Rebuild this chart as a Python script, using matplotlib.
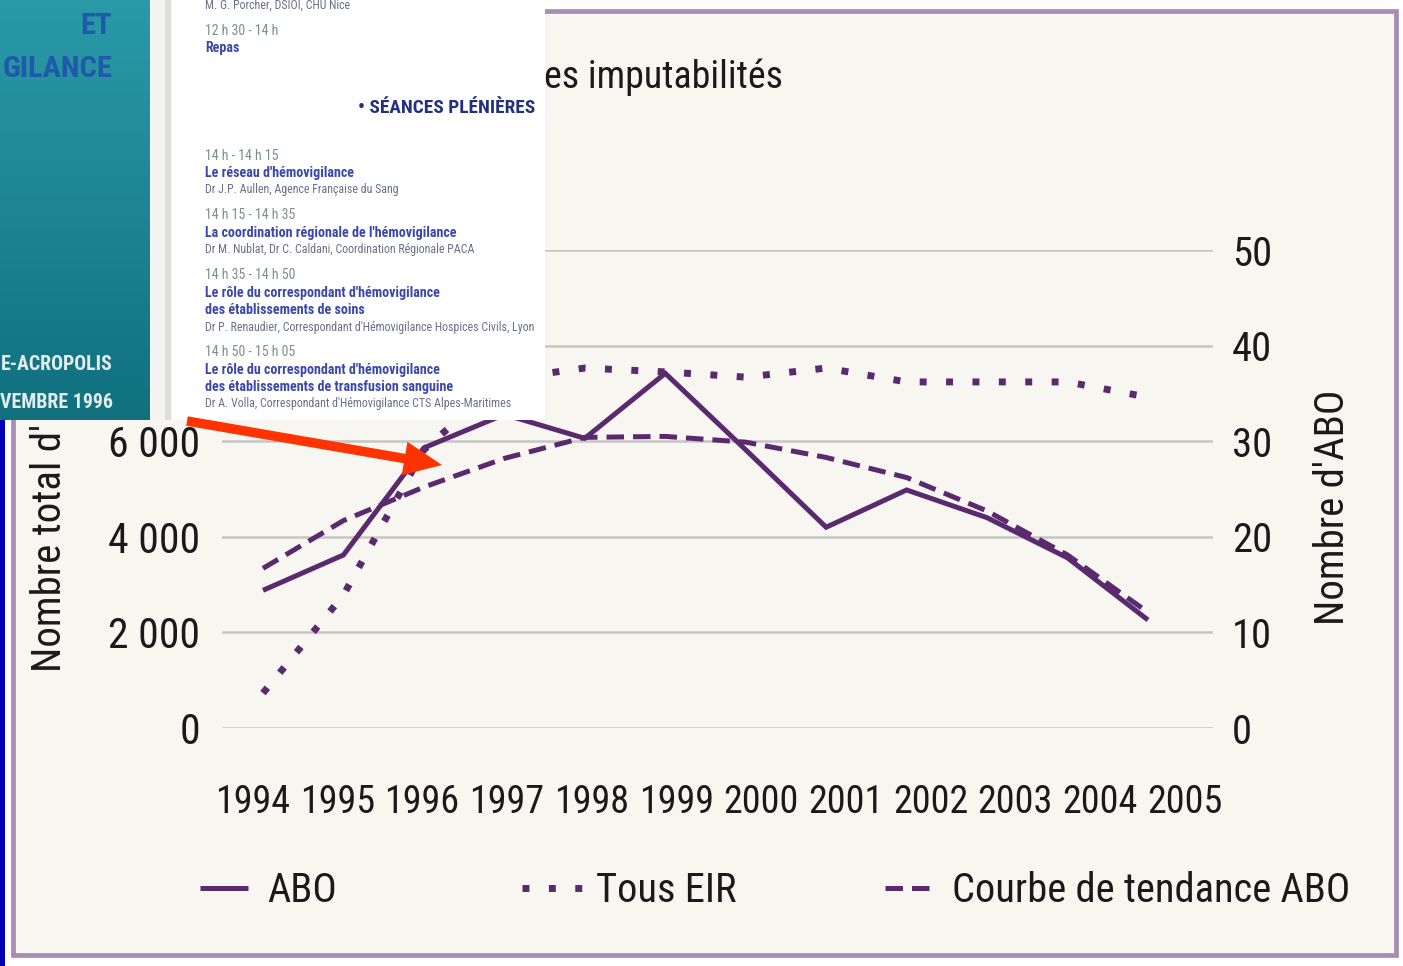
import numpy as np
import matplotlib
matplotlib.use('Agg')
import matplotlib.pyplot as plt
from matplotlib import font_manager as fm
from matplotlib.patches import Rectangle, FancyArrow

# ---------------- data ----------------
years = ['1994', '1995', '1996', '1997', '1998', '1999', '2000', '2001', '2002', '2003', '2004', '2005']
abo = [14.4, 18.1, 29.3, 32.8, 30.3, 37.1, 29.1, 21.0, 24.9, 22.0, 17.8, 11.3]
tous_eir = [730, 2780, 5820, 7300, 7530, 7450, 7340, 7530, 7240, 7240, 7240, 6920]
tendance_abo = [16.7, 21.7, 25.2, 28.2, 30.4, 30.5, 29.9, 28.3, 26.2, 22.7, 18.1, 12.1]
left_ticks = [0, 2000, 4000, 6000, 8000, 10000]
left_labels = ['0', '2 000', '4 000', '6 000', '8 000', '10 000']
right_ticks = [0, 10, 20, 30, 40, 50]
right_labels = ['0', '10', '20', '30', '40', '50']
legend_labels = ['ABO', 'Tous EIR', 'Courbe de tendance ABO']
# visible parts only (the rest is hidden behind the pasted brochure)
title_text = "es imputabilités"
ylabel_left = "Nombre total d'"
ylabel_right = "Nombre d'ABO"


def find_narrow():
    for fam in ['Liberation Sans Narrow', 'Roboto Condensed', 'Arial Narrow',
                'Open Sans Condensed', 'Nimbus Sans Narrow']:
        try:
            fm.findfont(fm.FontProperties(family=fam), fallback_to_default=False)
            return fam, 'normal'
        except Exception:
            pass
    for fam in ['Roboto', 'Open Sans', 'DejaVu Sans']:
        try:
            p = fm.findfont(fm.FontProperties(family=fam, stretch='condensed'),
                            fallback_to_default=False)
            if 'ondensed' in p:
                return fam, 'condensed'
        except Exception:
            pass
    return 'DejaVu Sans', 'normal'


NF, NST = find_narrow()

W, H = 1403, 966
fig = plt.figure(figsize=(W / 100, H / 100), dpi=100)
fig.patch.set_facecolor('white')
R = fig.canvas.get_renderer()


def fit_size(s, target, weight='normal', base=20.0):
    t = fig.text(0, 0, s, fontsize=base, family=NF, fontstretch=NST, weight=weight)
    w = t.get_window_extent(R).width
    t.remove()
    return base * target / w


def spacing_for(size, gap_px, weight='normal'):
    fp = fm.FontProperties(family=NF, stretch=NST, weight=weight, size=size)
    w, h, d = R.get_text_width_height_descent('lp', fp, ismath=False)
    return gap_px / (h - d)


def fa(x0, y0, x1, y1):
    return [x0 / W, 1 - y1 / H, (x1 - x0) / W, (y1 - y0) / H]


TXT = '#1a1a1a'
C = '#5B2A6E'
S_x = fit_size('1994', 75)
S_yl = fit_size('6 000', 92)
S_yr = fit_size('50', 40)
S_leg = fit_size('Courbe de tendance ABO', 398)
S_title = fit_size('es imputabilités', 238)
S_lab = fit_size("Nombre d'ABO", 235)
TK = dict(family=NF, fontstretch=NST, color=TXT)

# ---------------- background / panel ----------------
bg = fig.add_axes([0, 0, 1, 1], zorder=0)
bg.set_xlim(0, W)
bg.set_ylim(H, 0)
bg.axis('off')
bg.add_patch(Rectangle((0, 0), 5, H, color='#0000B8', lw=0))
bg.add_patch(Rectangle((13, 11), 1382.5, 943.5, facecolor='#F7F6F1',
                       edgecolor='#A98CB3', lw=3.4))
bg.text(783, 88, title_text, ha='right', va='baseline', fontsize=S_title, **TK)
bg.text(50, 672, ylabel_left, rotation=90, ha='center', va='bottom',
        fontsize=S_lab, **TK)
bg.text(1332, 507, ylabel_right, rotation=90, ha='center', va='center',
        fontsize=S_lab, **TK)

# ---------------- main chart ----------------
ax = fig.add_axes(fa(222, 250, 1213, 728), zorder=1)
ax.patch.set_alpha(0)
for s in ax.spines.values():
    s.set_visible(False)
x = np.arange(len(years))
ax.set_xlim(-(263 - 222) / 80.45, (1213 - 263) / 80.45)
ax.set_ylim(0, 10000)
ax.set_yticks(left_ticks)
ax.set_yticklabels(left_labels, fontsize=S_yl, **TK)
label_pos = [(252.5 + 84.77 * k - 263) / 80.45 for k in range(len(years))]
ax.set_xticks(label_pos)
ax.set_xticklabels(years, fontsize=S_x, **TK)
ax.tick_params(axis='y', length=0, pad=15.5)
ax.tick_params(axis='x', length=0, pad=40)
ax.yaxis.grid(True, color='#C6C6C6', lw=1.8)
ax.set_axisbelow(True)

ax2 = ax.twinx()
ax2.patch.set_alpha(0)
for s in ax2.spines.values():
    s.set_visible(False)
ax2.set_ylim(0, 50)
ax2.set_yticks(right_ticks)
ax2.set_yticklabels(right_labels, fontsize=S_yr, **TK)
ax2.tick_params(axis='y', length=0, pad=13.5)

l_eir, = ax.plot(x, tous_eir, color=C, lw=5, linestyle=(0, (1, 2.8)),
                 dash_capstyle='butt', label=legend_labels[1])
l_abo, = ax2.plot(x, abo, color=C, lw=3.6, solid_capstyle='butt',
                  solid_joinstyle='miter', label=legend_labels[0])
l_tr, = ax2.plot(x, tendance_abo, color=C, lw=3.6, linestyle=(0, (3.5, 1.8)),
                 dash_capstyle='butt', label=legend_labels[2])

em = S_leg * 100 / 72.0
for handle, xpx, hlpx, gap in [(l_abo, 200, 48, 19), (l_eir, 522, 60, 14),
                               (l_tr, 885, 50, 17)]:
    fig.legend(handles=[handle], loc='center left',
               bbox_to_anchor=(xpx / W, 1 - 891 / H), frameon=False,
               prop=fm.FontProperties(family=NF, stretch=NST, size=S_leg),
               handlelength=hlpx / em, handletextpad=gap / em, borderpad=0,
               borderaxespad=0, labelcolor=TXT)

# ---------------- overlay (brochure) ----------------
ov = fig.add_axes(fa(0, 0, 545, 420), zorder=5)
ov.axis('off')
ov.add_patch(Rectangle((0, 0), 545, 420, color='white', lw=0, zorder=0))
top = np.array([0x2A, 0x9A, 0xA8]) / 255.
bot = np.array([0x10, 0x70, 0x7E]) / 255.
t = np.linspace(0, 1, 200)[:, None, None]
grad = top * (1 - t) + bot * t
grad = np.repeat(grad, 4, axis=1)
ov.imshow(grad, extent=(0, 150, 420, 0), aspect='auto', interpolation='bilinear',
          zorder=0.5)
ov.add_patch(Rectangle((150, 0), 22, 420, color='#F4F4F1', lw=0, zorder=0.6))
ov.add_patch(Rectangle((165, 0), 6, 420, color='#DEDED9', lw=0, zorder=0.7))
ov.set_xlim(0, 545)
ov.set_ylim(420, 0)

S_big = fit_size('GILANCE', 110, weight='bold')
S_city = fit_size('E-ACROPOLIS', 112, weight='bold')
OK = dict(family=NF, fontstretch=NST, weight='bold')
# multi-line 'baseline' alignment anchors the last line's baseline
ov.text(112, 77, 'ET\nGILANCE', ha='right', va='baseline', multialignment='right',
        fontsize=S_big, color='#2058AA',
        linespacing=spacing_for(S_big, 37, 'bold'), **OK)
ov.text(113, 408, 'E-ACROPOLIS\nVEMBRE 1996', ha='right', va='baseline',
        multialignment='right', fontsize=S_city, color='#E4ECEC',
        linespacing=spacing_for(S_city, 34, 'bold'), **OK)

TIME = '#7D9088'
BLUE = '#3B47AA'
NAME = '#6A7088'
S_time = fit_size('14 h 15 - 14 h 35', 91)
S_bold = fit_size("La coordination régionale de l'hémovigilance", 250, weight='bold')
S_name = fit_size("Dr P. Renaudier, Correspondant d'Hémovigilance Hospices Civils, Lyon", 328)
lines = [
    (5, 'M. G. Porcher, DSIOI, CHU Nice', NAME, S_name, 'normal'),
    (31, '12 h 30 - 14 h', TIME, S_time, 'normal'),
    (48, 'Repas', BLUE, S_bold, 'bold'),
    (156, '14 h - 14 h 15', TIME, S_time, 'normal'),
    (173, "Le réseau d'hémovigilance", BLUE, S_bold, 'bold'),
    (190, 'Dr J.P. Aullen, Agence Française du Sang', NAME, S_name, 'normal'),
    (215, '14 h 15 - 14 h 35', TIME, S_time, 'normal'),
    (233, "La coordination régionale de l'hémovigilance", BLUE, S_bold, 'bold'),
    (250, 'Dr M. Nublat, Dr C. Caldani, Coordination Régionale PACA', NAME, S_name, 'normal'),
    (275, '14 h 35 - 14 h 50', TIME, S_time, 'normal'),
    (293, "Le rôle du correspondant d'hémovigilance", BLUE, S_bold, 'bold'),
    (310, 'des établissements de soins', BLUE, S_bold, 'bold'),
    (327, "Dr P. Renaudier, Correspondant d'Hémovigilance Hospices Civils, Lyon", NAME, S_name, 'normal'),
    (352, '14 h 50 - 15 h 05', TIME, S_time, 'normal'),
    (370, "Le rôle du correspondant d'hémovigilance", BLUE, S_bold, 'bold'),
    (387, 'des établissements de transfusion sanguine', BLUE, S_bold, 'bold'),
    (404, "Dr A. Volla, Correspondant d'Hémovigilance CTS Alpes-Maritimes", NAME, S_name, 'normal'),
]
for yy, s, col, fs, wt in lines:
    ov.text(205, yy, s, ha='left', va='center', fontsize=fs, weight=wt,
            color=col, family=NF, fontstretch=NST)
S_sec = fit_size('• SÉANCES PLÉNIÈRES', 177, weight='bold')
ov.text(535, 108, '• SÉANCES PLÉNIÈRES', ha='right', va='center', fontsize=S_sec,
        color='#22307E', **OK)

# ---------------- red arrow ----------------
ar = fig.add_axes([0, 0, 1, 1], zorder=6)
ar.set_xlim(0, W)
ar.set_ylim(H, 0)
ar.axis('off')
ar.add_patch(FancyArrow(187, 421, 255, 44, width=9.5, head_width=34,
                        head_length=38, length_includes_head=True,
                        color='#FF3300', lw=0))

fig.savefig('out.png', dpi=100, facecolor=fig.get_facecolor())
